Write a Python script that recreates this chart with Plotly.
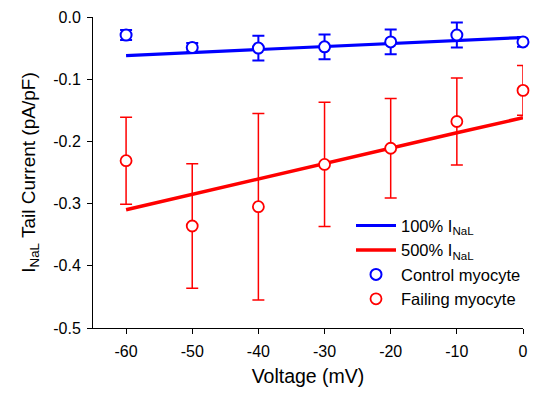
import plotly.graph_objects as go

voltage = [-60, -50, -40, -30, -20, -10, 0]
control_mean = [-0.029, -0.049, -0.050, -0.048, -0.040, -0.029, -0.040]
control_err = [0.008, 0.007, 0.020, 0.020, 0.020, 0.020, 0.008]
failing_mean = [-0.231, -0.336, -0.305, -0.237, -0.211, -0.168, -0.118]
failing_err = [0.070, 0.100, 0.150, 0.100, 0.080, 0.070, 0.040]
model_100 = [-0.062, -0.057, -0.052, -0.048, -0.043, -0.038, -0.033]
model_500 = [-0.310, -0.285, -0.260, -0.236, -0.211, -0.186, -0.162]
xticks = [-60, -50, -40, -30, -20, -10, 0]
xticklabels = ["-60", "-50", "-40", "-30", "-20", "-10", "0"]
yticks = [0.0, -0.1, -0.2, -0.3, -0.4, -0.5]
yticklabels = ["0.0", "-0.1", "-0.2", "-0.3", "-0.4", "-0.5"]

BLUE = "#0000ff"
RED = "#ff0000"
FONT = "Liberation Sans, Arial"

fig = go.Figure()
fig.add_trace(go.Scatter(x=voltage, y=model_100, mode="lines",
                         line=dict(color=BLUE, width=3.2),
                         name="100% I<sub>NaL</sub>"))
fig.add_trace(go.Scatter(x=voltage, y=model_500, mode="lines",
                         line=dict(color=RED, width=3.5),
                         name="500% I<sub>NaL</sub>"))
fig.add_trace(go.Scatter(x=voltage, y=control_mean, mode="markers",
                         marker=dict(symbol="circle", size=11, color="white",
                                     line=dict(color=BLUE, width=2)),
                         error_y=dict(type="data", array=control_err, color=BLUE,
                                      thickness=2, width=6),
                         name="Control myocyte", cliponaxis=False))
fig.add_trace(go.Scatter(x=voltage, y=failing_mean, mode="markers",
                         marker=dict(symbol="circle", size=11, color="white",
                                     line=dict(color=RED, width=1.8)),
                         error_y=dict(type="data", array=failing_err, color=RED,
                                      thickness=1.5, width=6),
                         name="Failing myocyte", cliponaxis=False))

tick_font = dict(family=FONT, size=16, color="black")
fig.update_layout(
    width=534, height=393,
    margin=dict(l=93, r=8, t=17, b=65),
    paper_bgcolor="white", plot_bgcolor="white",
    font=dict(family=FONT, size=15, color="black"),
    showlegend=True,
    legend=dict(x=0.60, y=0.385, xanchor="left", yanchor="top",
                bgcolor="rgba(0,0,0,0)", font=dict(family=FONT, size=16.5),
                tracegroupgap=0, itemwidth=40),
    xaxis=dict(range=[-65, 0], tickvals=xticks, ticktext=xticklabels,
               ticks="outside", ticklen=5, ticklabelstandoff=4, automargin=False,
               showline=True, linecolor="black", linewidth=1, showgrid=False,
               zeroline=False, tickfont=tick_font, tickcolor="black",
               title=dict(text="Voltage (mV)", font=dict(family=FONT, size=19.5),
                          standoff=10)),
    yaxis=dict(range=[-0.5, 0], tickvals=yticks, ticktext=yticklabels,
               ticks="outside", ticklen=5, ticklabelstandoff=3, automargin=False,
               showline=True, linecolor="black",
               linewidth=1, showgrid=False, zeroline=False, tickfont=tick_font,
               tickcolor="black",
               title=dict(text="I<sub>NaL</sub> Tail Current (pA/pF)",
                          font=dict(family=FONT, size=19), standoff=12)),
)
fig.write_html("out.html", config={"displayModeBar": False},
               post_script="document.body.style.margin='0';")
